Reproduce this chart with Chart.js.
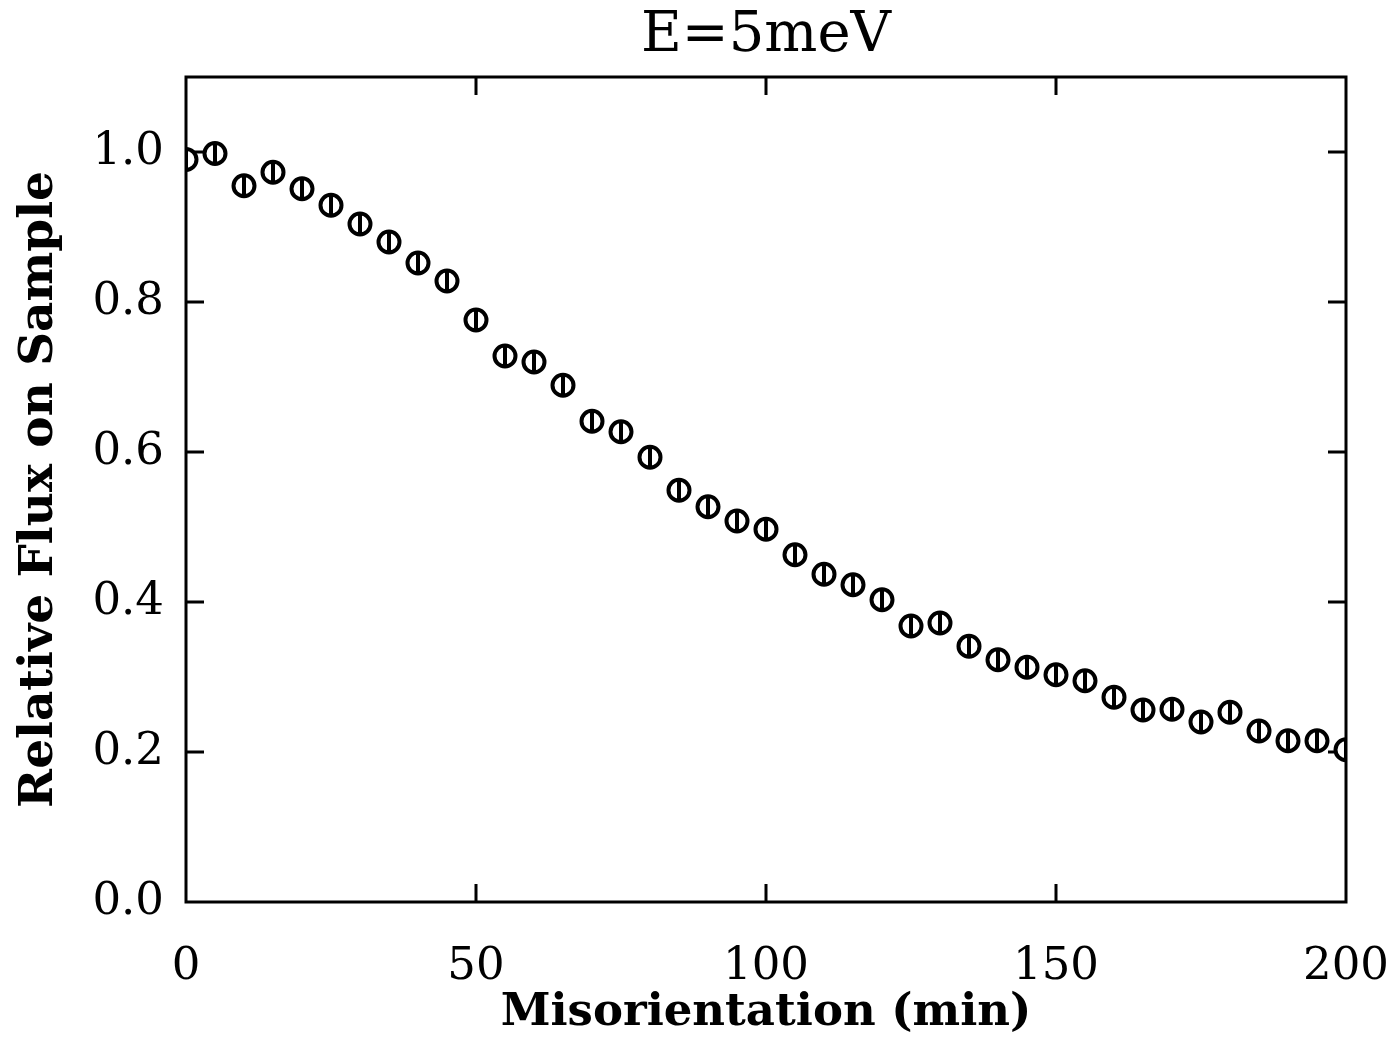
<!DOCTYPE html>
<html>
<head>
<meta charset="utf-8">
<title>E=5meV</title>
<script src="https://cdn.jsdelivr.net/npm/chart.js@4"></script>
<style>
  html, body { margin: 0; padding: 0; background: #fff; }
  #wrap { width: 1394px; height: 1042px; }
</style>
</head>
<body>
<div id="wrap"><canvas id="chart-flux"></canvas></div>
<script>
// misorientation steps (min) and measured relative flux
const misorientation = [0, 5, 10, 15, 20, 25, 30, 35, 40, 45, 50, 55, 60, 65, 70, 75, 80, 85, 90, 95,
  100, 105, 110, 115, 120, 125, 130, 135, 140, 145, 150, 155, 160, 165, 170, 175, 180, 185, 190, 195, 200];
const relFlux = [0.990, 0.998, 0.955, 0.973, 0.951, 0.929, 0.904, 0.880, 0.852, 0.828,
  0.776, 0.728, 0.720, 0.689, 0.641, 0.627, 0.593, 0.549, 0.527, 0.508,
  0.497, 0.463, 0.437, 0.423, 0.403, 0.368, 0.372, 0.341, 0.323, 0.313,
  0.303, 0.295, 0.273, 0.256, 0.257, 0.240, 0.253, 0.228, 0.215, 0.215, 0.203];
const fluxErr = [0.015, 0.015, 0.015, 0.015, 0.015, 0.015, 0.015, 0.015, 0.015, 0.015,
  0.015, 0.015, 0.015, 0.015, 0.015, 0.015, 0.015, 0.015, 0.015, 0.015,
  0.015, 0.015, 0.015, 0.015, 0.015, 0.015, 0.015, 0.015, 0.015, 0.015,
  0.015, 0.015, 0.015, 0.015, 0.015, 0.015, 0.015, 0.015, 0.015, 0.015, 0.015];
const xTicks = [0, 50, 100, 150, 200];
const yTicks = [0.0, 0.2, 0.4, 0.6, 0.8, 1.0];

const SERIF = "'DejaVu Serif', 'Liberation Serif', serif";
const TICK_LEN = 18;
const TITLE = "E=5meV";

// frame, inward ticks on all four sides, error bars and the title over the plot box
const framePlugin = {
  id: "frame",
  beforeDatasetsDraw(chart) {
    const { ctx, chartArea: a, scales } = chart;
    ctx.save();
    ctx.strokeStyle = "#000";
    ctx.lineWidth = 3;
    ctx.beginPath();
    ctx.rect(a.left, a.top, a.right - a.left, a.bottom - a.top);
    for (const v of xTicks) {
      const px = Math.round(scales.x.getPixelForValue(v));
      ctx.moveTo(px, a.bottom); ctx.lineTo(px, a.bottom - TICK_LEN);
      ctx.moveTo(px, a.top); ctx.lineTo(px, a.top + TICK_LEN);
    }
    for (const v of yTicks) {
      const py = Math.round(scales.y.getPixelForValue(v));
      ctx.moveTo(a.left, py); ctx.lineTo(a.left + TICK_LEN, py);
      ctx.moveTo(a.right, py); ctx.lineTo(a.right - TICK_LEN, py);
    }
    ctx.stroke();

    ctx.fillStyle = "#000";
    ctx.font = "56px " + SERIF;
    ctx.textAlign = "center";
    ctx.textBaseline = "middle";
    ctx.fillText(TITLE, (a.left + a.right) / 2, 36);
    ctx.restore();
  },
  afterDatasetsDraw(chart) {
    const { ctx, chartArea: a, scales } = chart;
    ctx.save();
    ctx.beginPath();
    ctx.rect(a.left, a.top, a.right - a.left, a.bottom - a.top);
    ctx.clip();
    ctx.strokeStyle = "#000";
    ctx.lineWidth = 4;
    ctx.beginPath();
    misorientation.forEach((x, i) => {
      const px = Math.round(scales.x.getPixelForValue(x));
      ctx.moveTo(px, scales.y.getPixelForValue(relFlux[i] - fluxErr[i]));
      ctx.lineTo(px, scales.y.getPixelForValue(relFlux[i] + fluxErr[i]));
    });
    ctx.stroke();
    ctx.restore();
  },
};

new Chart(document.getElementById("chart-flux"), {
  type: "scatter",
  data: {
    datasets: [{
      label: "flux",
      data: misorientation.map((x, i) => ({ x, y: relFlux[i] })),
      pointStyle: "circle",
      pointRadius: 10.5,
      pointBorderWidth: 4,
      pointBorderColor: "#000",
      pointBackgroundColor: "#fff",
      clip: 0,
    }],
  },
  options: {
    responsive: true,
    maintainAspectRatio: false,
    animation: false,
    layout: { padding: { left: 0, right: 48, top: 77, bottom: 0 } },
    plugins: {
      legend: { display: false },
      tooltip: { enabled: false },
      title: { display: false },
    },
    scales: {
      x: {
        type: "linear",
        min: 0,
        max: 200,
        afterBuildTicks: (s) => { s.ticks = xTicks.map((v) => ({ value: v })); },
        afterFit: (s) => { s.height = 140; s.paddingRight = 0; s.paddingLeft = 0; },
        border: { display: false },
        grid: { display: false },
        ticks: {
          color: "#000",
          padding: 30,
          maxRotation: 0,
          font: { family: SERIF, size: 45 },
        },
        title: {
          display: true,
          text: "Misorientation (min)",
          color: "#000",
          font: { family: SERIF, size: 45, weight: "bold" },
          padding: { top: 0, bottom: 2 },
        },
      },
      y: {
        type: "linear",
        min: 0,
        max: 1.1,
        afterBuildTicks: (s) => { s.ticks = yTicks.map((v) => ({ value: v })); },
        afterFit: (s) => { s.width = 186; s.paddingTop = 0; s.paddingBottom = 0; },
        border: { display: false },
        grid: { display: false },
        ticks: {
          color: "#000",
          padding: 14,
          font: { family: SERIF, size: 45 },
          callback: (v) => Number(v).toFixed(1),
        },
        title: {
          display: true,
          text: "Relative Flux on Sample",
          color: "#000",
          font: { family: SERIF, size: 47, weight: "bold" },
          padding: { top: 12, bottom: 0 },
        },
      },
    },
  },
  plugins: [framePlugin],
});
</script>
</body>
</html>
